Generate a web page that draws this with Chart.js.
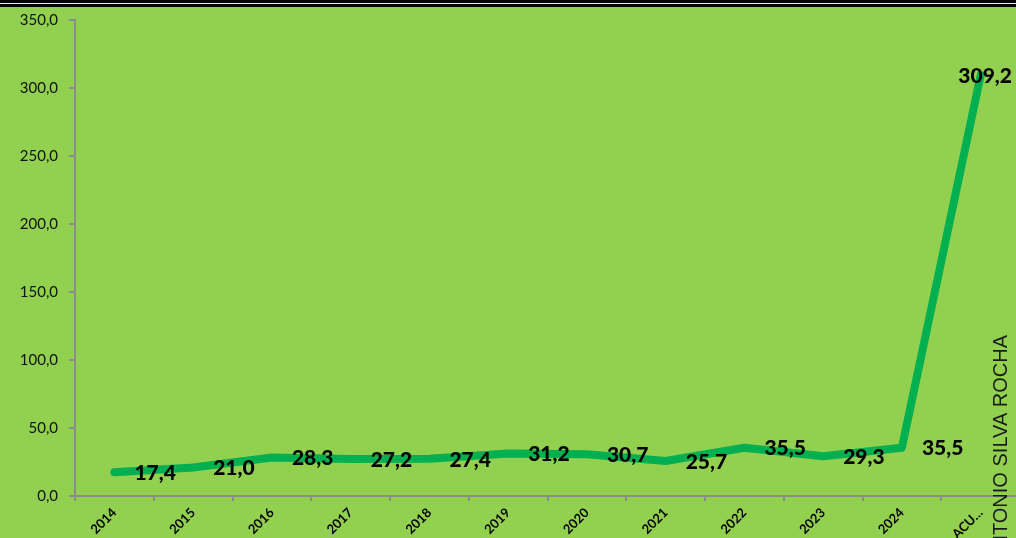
<!DOCTYPE html>
<html>
<head>
<meta charset="utf-8">
<script src="https://cdn.jsdelivr.net/npm/chart.js@4"></script>
<style>
  html, body { margin: 0; padding: 0; overflow: hidden; background: #92D050; }
  #wrap { width: 1022px; height: 538px; position: relative; }
</style>
</head>
<body>
<div id="wrap"><canvas id="chart"></canvas></div>
<script>
// categories and values
const categories = ['2014', '2015', '2016', '2017', '2018', '2019', '2020', '2021', '2022', '2023', '2024', 'ACUMULADO'];
const values     = [17.4, 21.0, 28.3, 27.2, 27.4, 31.2, 30.7, 25.7, 35.5, 29.3, 35.5, 309.2];

const BG_COLOR   = '#92D050';
const LINE_COLOR = '#00B050';
const AXIS_COLOR = '#8c8c8c';
const TEXT_COLOR = '#111';
const VISIBLE_W  = 1016;

const fmt = v => v.toFixed(1).replace('.', ',');

// background + black rule at the top
const backdrop = {
  id: 'backdrop',
  beforeDraw(chart) {
    const { ctx, width, height } = chart;
    ctx.save();
    ctx.fillStyle = BG_COLOR;
    ctx.fillRect(0, 0, width, height);
    ctx.fillStyle = '#000';
    ctx.fillRect(0, 0, width, 3);
    ctx.fillRect(0, 4, width, 3);
    ctx.fillStyle = '#e6e6e6';
    ctx.fillRect(0, 3, width, 1);
    ctx.restore();
  },
};

// value labels to the right of each point (kept inside the visible width)
const valueLabels = {
  id: 'valueLabels',
  afterDatasetsDraw(chart) {
    const { ctx } = chart;
    const meta = chart.getDatasetMeta(0);
    ctx.save();
    ctx.font = '900 21px Lato';
    ctx.fillStyle = '#000';
    ctx.textBaseline = 'middle';
    ctx.textAlign = 'left';
    meta.data.forEach((pt, i) => {
      const txt = fmt(values[i]);
      const w = ctx.measureText(txt).width;
      let x = pt.x + 20;
      if (x + w > VISIBLE_W - 4) x = VISIBLE_W - 4 - w;
      ctx.fillText(txt, x, pt.y + 1);
    });
    ctx.restore();
  },
};

// vertical name on the right edge
const sideText = {
  id: 'sideText',
  afterDraw(chart) {
    const { ctx } = chart;
    ctx.save();
    ctx.translate(1007, 335);
    ctx.rotate(-Math.PI / 2);
    ctx.font = '20px "Liberation Sans", Arial';
    ctx.fillStyle = '#1a1a1a';
    ctx.textAlign = 'right';
    ctx.textBaseline = 'alphabetic';
    ctx.fillText('ANTONIO SILVA ROCHA', 0, 0);
    ctx.restore();
  },
};

new Chart(document.getElementById('chart'), {
  type: 'line',
  data: {
    labels: categories,
    datasets: [{
      data: values,
      borderColor: LINE_COLOR,
      backgroundColor: LINE_COLOR,
      borderWidth: 8,
      borderCapStyle: 'round',
      borderJoinStyle: 'round',
      pointRadius: 0,
      tension: 0,
      fill: false,
    }],
  },
  options: {
    responsive: true,
    maintainAspectRatio: false,
    animation: false,
    layout: { padding: { top: 20, right: 2, left: 0, bottom: 0 } },
    plugins: { legend: { display: false }, tooltip: { enabled: false } },
    scales: {
      x: {
        offset: true,
        grid: { offset: true, drawOnChartArea: false, tickLength: 5, color: AXIS_COLOR, lineWidth: 2 },
        border: { color: AXIS_COLOR, width: 2 },
        ticks: {
          autoSkip: false,
          minRotation: 45,
          maxRotation: 45,
          padding: 4,
          color: '#000',
          font: { family: 'Lato', size: 13, weight: 'bold' },
          callback(v) {
            const l = this.getLabelForValue(v);
            return l.length > 4 ? l.slice(0, 3) + '…' : l;
          },
        },
        afterFit: s => { s.height = 42; },
      },
      y: {
        min: 0,
        max: 350,
        grid: { drawOnChartArea: false, tickLength: 6, color: AXIS_COLOR, lineWidth: 2 },
        border: { color: AXIS_COLOR, width: 2 },
        ticks: {
          stepSize: 50,
          padding: 11,
          color: TEXT_COLOR,
          font: { family: 'Lato', size: 15 },
          callback: v => fmt(v),
        },
        afterFit: s => { s.width = 75; },
      },
    },
  },
  plugins: [backdrop, valueLabels, sideText],
});
</script>
</body>
</html>
